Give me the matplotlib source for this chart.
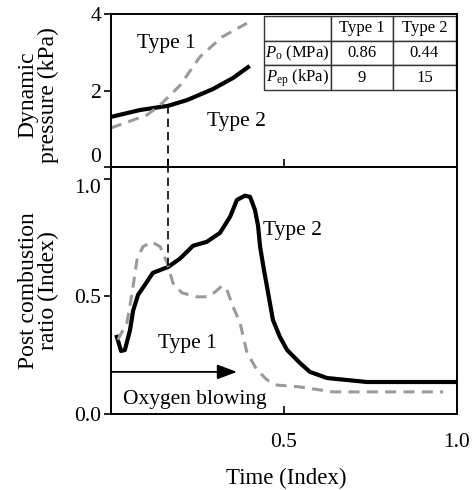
import matplotlib
matplotlib.use("Agg")
import matplotlib.pyplot as plt

plt.rcParams['font.family'] = ['Liberation Serif', 'DejaVu Serif']
plt.rcParams['mathtext.fontset'] = 'custom'
plt.rcParams['mathtext.rm'] = 'Liberation Serif'
plt.rcParams['mathtext.it'] = 'Liberation Serif:italic'

# -----------------------------
# Data
# -----------------------------
# top panel: dynamic pressure (kPa)
dp_t2_x = [0.0, 0.084, 0.165, 0.22, 0.295, 0.353, 0.396]
dp_t2_y = [1.31, 1.49, 1.60, 1.75, 2.04, 2.33, 2.61]
dp_t1_x = [0.0, 0.104, 0.142, 0.2, 0.257, 0.321, 0.393]
dp_t1_y = [1.02, 1.36, 1.62, 2.14, 2.88, 3.40, 3.76]

# bottom panel: post combustion ratio (index)
pc_t2_x = [0.017, 0.029, 0.040, 0.055, 0.064, 0.078, 0.098, 0.121, 0.165, 0.199,
           0.237, 0.277, 0.315, 0.344, 0.364, 0.387, 0.402, 0.416, 0.425, 0.431,
           0.442, 0.451, 0.468, 0.488, 0.509, 0.546, 0.575, 0.624, 0.74, 1.0]
pc_t2_y = [0.328, 0.268, 0.272, 0.357, 0.44, 0.506, 0.549, 0.60, 0.625, 0.66,
           0.715, 0.732, 0.77, 0.838, 0.91, 0.928, 0.923, 0.868, 0.80, 0.71,
           0.613, 0.54, 0.40, 0.328, 0.272, 0.217, 0.179, 0.153, 0.136, 0.136]
pc_t1_x = [0.020, 0.032, 0.046, 0.061, 0.075, 0.092, 0.118, 0.142, 0.162, 0.179,
           0.205, 0.249, 0.277, 0.301, 0.321, 0.335, 0.353, 0.373, 0.393, 0.422,
           0.451, 0.480, 0.546, 0.642, 0.74, 0.96]
pc_t1_y = [0.315, 0.35, 0.387, 0.515, 0.655, 0.711, 0.732, 0.711, 0.643, 0.557,
           0.515, 0.498, 0.498, 0.519, 0.545, 0.528, 0.455, 0.387, 0.26, 0.187,
           0.145, 0.123, 0.115, 0.094, 0.094, 0.094]

t_mark = 0.165
blow_end = 0.364

table_cols = ["", "Type 1", "Type 2"]
table_rows = [[r"$P_{\rm o}$ (MPa)", "0.86", "0.44"],
              [r"$P_{\rm ep}$ (kPa)", "9", "15"]]

# -----------------------------
# Figure
# -----------------------------
fig = plt.figure(figsize=(4.75, 4.9), dpi=100)
ax1 = fig.add_axes([0.2337, 0.6592, 0.7284, 0.3122])
ax2 = fig.add_axes([0.2337, 0.1551, 0.7284, 0.5041])

gray = "#9a9a9a"

# top panel
ax1.plot(dp_t2_x, dp_t2_y, color="black", lw=3)
ax1.plot(dp_t1_x, dp_t1_y, color=gray, lw=2.2, dashes=(3.6, 2.4))
ax1.plot([t_mark, t_mark], [0, 1.6], color="black", lw=1.2, dashes=(5, 3))
ax1.set_xlim(0, 1)
ax1.set_ylim(0, 4)
ax1.set_yticks([0, 2, 4])
ax1.set_xticks([t_mark, 0.5])
ax1.set_xticklabels([])
ax1.tick_params(axis="x", direction="in", length=6, width=1.2)
ax1.tick_params(axis="y", direction="out", length=5, width=1.2, labelsize=15.5, pad=2)
ax1.get_yticklabels()[0].set_va("bottom")
ax1.text(0.075, 3.24, "Type 1", fontsize=15.5, va="center")
ax1.text(0.277, 1.18, "Type 2", fontsize=15.5, va="center")
ax1.text(-0.21, 0.47, "Dynamic\npressure (kPa)", transform=ax1.transAxes,
         rotation=90, ha="center", va="center", fontsize=17, linespacing=0.95)

tb = ax1.table(cellText=table_rows, colLabels=table_cols,
               bbox=[0.442, 0.503, 0.555, 0.484], cellLoc="center")
tb.auto_set_font_size(False)
tb.set_fontsize(12)
widths = [67, 62, 63]
for (r, c), cell in tb.get_celld().items():
    cell.set_width(widths[c] / 192 * 0.555)
    cell.set_linewidth(1.0)
    cell.set_edgecolor("#333333")

# bottom panel
ax2.plot(pc_t2_x, pc_t2_y, color="black", lw=3)
ax2.plot(pc_t1_x, pc_t1_y, color=gray, lw=2.2, dashes=(3.6, 2.4))
ax2.plot([t_mark, t_mark], [0.63, 1.05], color="black", lw=1.2, dashes=(5, 3))
ax2.annotate("", xy=(blow_end, 0.179), xytext=(0, 0.179),
             arrowprops=dict(arrowstyle="-|>,head_length=1.2,head_width=0.45",
                             color="black", lw=1.3, shrinkA=0, shrinkB=0))
ax2.text(0.035, 0.06, "Oxygen blowing", fontsize=15.5, va="center")
ax2.text(0.136, 0.30, "Type 1", fontsize=15.5, va="center")
ax2.text(0.44, 0.78, "Type 2", fontsize=15.5, va="center")
ax2.set_xlim(0, 1)
ax2.set_ylim(0, 1.05)
ax2.set_yticks([0.0, 0.5, 1.0])
ax2.set_yticklabels(["0.0", "0.5", "1.0"])
ax2.get_yticklabels()[2].set_va("top")
ax2.set_xticks([0.5, 1.0])
ax2.set_xticklabels(["0.5", "1.0"])
ax2.tick_params(axis="x", direction="in", length=6, width=1.2, labelsize=15.5, pad=14)
ax2.tick_params(axis="y", direction="out", length=5, width=1.2, labelsize=15.5, pad=2)
ax2.text(-0.21, 0.5, "Post combustion\nratio (Index)", transform=ax2.transAxes,
         rotation=90, ha="center", va="center", fontsize=17, linespacing=0.95)
fig.text(286 / 475, 1 - 478 / 490, "Time (Index)", ha="center", va="center", fontsize=16.5)

for ax in (ax1, ax2):
    for s in ax.spines.values():
        s.set_linewidth(1.4)

fig.savefig("out.png", dpi=100)
